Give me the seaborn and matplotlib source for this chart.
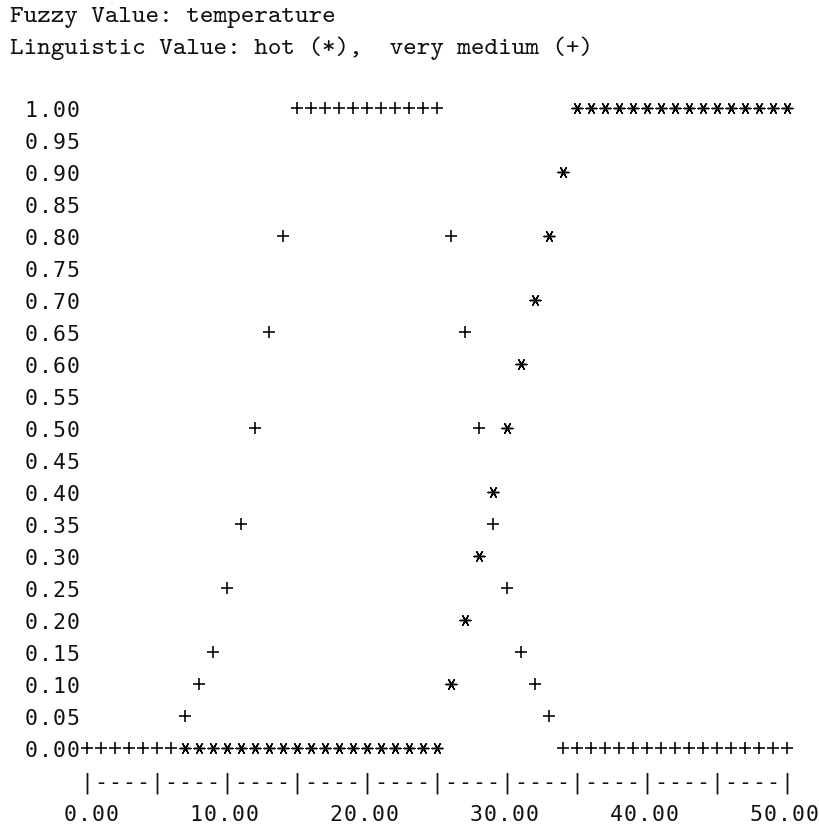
import numpy as np
import pandas as pd
import matplotlib
matplotlib.use("Agg")
import matplotlib.pyplot as plt
import seaborn as sns

# ---- data -------------------------------------------------------------
fuzzy_value = "temperature"
temp = list(range(0, 51))

# membership grades (quantised to the 0.05 plot resolution)
hot = [0.00] * 26 + [0.10, 0.20, 0.30, 0.40, 0.50, 0.60, 0.70, 0.80, 0.90] + [1.00] * 16
very_medium = ([0.00] * 7
               + [0.05, 0.10, 0.15, 0.25, 0.35, 0.50, 0.65, 0.80]
               + [1.00] * 11
               + [0.80, 0.65, 0.50, 0.35, 0.25, 0.15, 0.10, 0.05]
               + [0.00] * 17)

grade_levels = [round(1.0 - 0.05 * i, 2) for i in range(21)]
bar_ticks = [0, 5, 10, 15, 20, 25, 30, 35, 40, 45, 50]
label_ticks = [0, 10, 20, 30, 40, 50]

# ---- text-grid geometry (one column = one unit, one row = 0.05) -------
W, H, DPI = 820, 828, 100
COL_PX = 14.0
ROW_PX = 32.0
X0_PX = 87.0      # pixel centre of temp 0
Y0_PX = 749.0     # pixel centre of grade 0.00
PX_PER_GRADE = ROW_PX / 0.05

sns.set_theme(style="white")

fig = plt.figure(figsize=(W / DPI, H / DPI), dpi=DPI)
ax = fig.add_axes([0, 0, 1, 1])
ax.set_xlim(-X0_PX / COL_PX, (W - X0_PX) / COL_PX)
ax.set_ylim((Y0_PX - H) / PX_PER_GRADE, Y0_PX / PX_PER_GRADE)
ax.axis("off")

# ---- plotted points ---------------------------------------------------
df = pd.concat([
    pd.DataFrame({"temp": temp, "grade": hot, "series": "hot"}),
    pd.DataFrame({"temp": temp, "grade": very_medium, "series": "very medium"}),
])
# a cell shows only one symbol: '+' takes the cell when both share it
shared = df[df.series == "very medium"].set_index(["temp", "grade"]).index
hidden = (df.series == "hot") & df.set_index(["temp", "grade"]).index.isin(shared)
df = df[~hidden]

star = df[df.series == "hot"]
plus = df[df.series == "very medium"]
sns.scatterplot(data=star, x="temp", y="grade", marker=(6, 2, 90),
                color="black", s=60, linewidth=1.05, legend=False, ax=ax)
sns.scatterplot(data=plus, x="temp", y="grade", marker="+",
                color="black", s=72, linewidth=1.15, legend=False, ax=ax)

# ---- text ------------------------------------------------------------
BODY = dict(family="DejaVu Sans Mono", fontsize=15.5, color="#111111")
digit_h_px = 0.729 * BODY["fontsize"] * DPI / 72
base_off = (digit_h_px / 2) / PX_PER_GRADE


def grid_text(right_col, grade, s, **kw):
    """Write string s one character per grid column, ending at right_col."""
    for i, ch in enumerate(s):
        t = right_col - (len(s) - 1 - i)
        ax.text(t, grade - base_off, ch, ha="center", va="baseline", **kw)


for g in grade_levels:
    grid_text(-1, g, f"{g:.2f}", **BODY)

axis_row = -0.05
for t in temp:
    ch = "|" if t in bar_ticks else "-"
    ax.text(t, axis_row - base_off, ch, ha="center", va="baseline", **BODY)

for t in label_ticks:
    grid_text(t + 2 - 3 / COL_PX, -0.10, f"{t:.2f}", **BODY)

TITLE = dict(family="cmtt10", fontsize=18.6, color="#111111")
x_left = (10 - X0_PX) / COL_PX
ax.text(x_left, (Y0_PX - 22) / PX_PER_GRADE,
        f"Fuzzy Value: {fuzzy_value}", ha="left", va="baseline", **TITLE)
ax.text(x_left, (Y0_PX - 54) / PX_PER_GRADE,
        "Linguistic Value: hot (*),  very medium (+)",
        ha="left", va="baseline", **TITLE)

fig.savefig("out.png", dpi=DPI)
